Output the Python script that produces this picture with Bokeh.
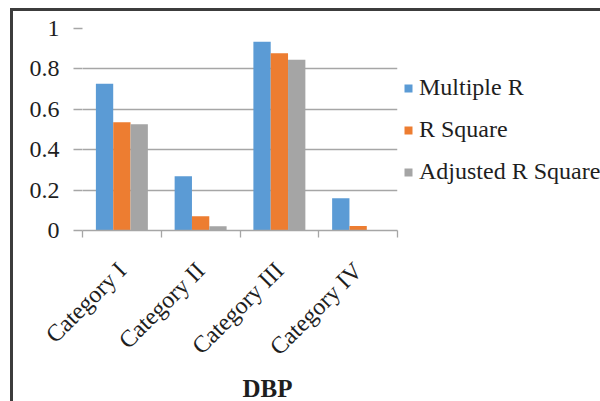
import math
from bokeh.plotting import figure
from bokeh.models import (ColumnDataSource, Range1d, FixedTicker, LinearAxis,
                          Legend, LegendItem, Title)
from bokeh.transform import dodge
from bokeh.embed import file_html
from bokeh.resources import INLINE

categories = ["Category I", "Category II", "Category III", "Category IV"]
multiple_r = [0.726, 0.269, 0.934, 0.160]
r_square = [0.536, 0.071, 0.878, 0.022]
adjusted_r_square = [0.526, 0.021, 0.845, 0.0]
series_names = ["Multiple R", "R Square", "Adjusted R Square"]
y_ticks = [0, 0.2, 0.4, 0.6, 0.8, 1.0]
y_tick_labels = ["0", "0.2", "0.4", "0.6", "0.8", "1"]
x_title = "DBP"

colors = ["#5B9BD5", "#ED7D31", "#A5A5A5"]
FONT = "Liberation Serif"
TXT = "#1e1e1e"
GRID = "#a6a6a6"

n = len(categories)
centers = [i + 0.5 for i in range(n)]   # category slots on a 0..n axis
source = ColumnDataSource(dict(x=centers, mr=multiple_r, rs=r_square, ars=adjusted_r_square))

p = figure(frame_width=315, frame_height=202, x_range=Range1d(0, n),
           y_range=Range1d(0, 1), output_backend="svg", toolbar_location=None,
           x_axis_location=None, min_border_left=69, min_border_right=203,
           min_border_top=17, min_border_bottom=171)
p.styles = {"margin-left": "10px", "margin-top": "8px",
            "border-top": "3px solid #3c3c3c", "border-left": "3px solid #3c3c3c"}
p.outline_line_color = None
p.xgrid.grid_line_color = None
p.ygrid.grid_line_color = GRID
p.ygrid.grid_line_width = 1.3
p.ygrid.ticker = FixedTicker(ticks=y_ticks)

ya = p.yaxis[0]
ya.ticker = FixedTicker(ticks=y_ticks)
ya.major_label_overrides = {t: l for t, l in zip(y_ticks, y_tick_labels)}
ya.axis_line_color = None
ya.major_tick_out = 9
ya.major_tick_in = 0
ya.major_tick_line_color = GRID
ya.major_tick_line_width = 1.3
ya.minor_tick_line_color = None
ya.major_label_standoff = 14
ya.major_label_text_font = FONT
ya.major_label_text_font_size = "24px"
ya.major_label_text_color = TXT

# tick marks at category boundaries (no labels)
edge_axis = LinearAxis(ticker=FixedTicker(ticks=list(range(n + 1))),
                       major_label_text_font_size="0px", major_label_text_color=None,
                       major_label_standoff=0,
                       axis_line_color=GRID, axis_line_width=1.3,
                       major_tick_out=7, major_tick_in=0, major_tick_line_color=GRID,
                       major_tick_line_width=1.3, minor_tick_line_color=None)
p.add_layout(edge_axis, "below")

cat_axis = LinearAxis(ticker=FixedTicker(ticks=centers),
                      major_label_overrides={c: lab for c, lab in zip(centers, categories)},
                      axis_line_color=None, major_tick_line_color=None,
                      minor_tick_line_color=None, major_label_orientation=math.pi / 4,
                      major_label_text_font=FONT, major_label_text_font_size="24px",
                      major_label_text_color=TXT, major_label_standoff=23)
p.add_layout(cat_axis, "below")

p.add_layout(Title(text=x_title, align="left", offset=160, standoff=0,
                   text_font=FONT, text_font_size="25px", text_font_style="bold",
                   text_color=TXT), "below")

w = 0.22
r1 = p.vbar(x=dodge("x", -w), top="mr", width=w, source=source,
            fill_color=colors[0], line_color=None)
r2 = p.vbar(x=dodge("x", 0), top="rs", width=w, source=source,
            fill_color=colors[1], line_color=None)
r3 = p.vbar(x=dodge("x", w), top="ars", width=w, source=source,
            fill_color=colors[2], line_color=None)

legend = Legend(items=[LegendItem(label=series_names[0], renderers=[r1]),
                       LegendItem(label=series_names[1], renderers=[r2]),
                       LegendItem(label=series_names[2], renderers=[r3])],
                location=(6, 45), padding=0, margin=0, border_line_color=None,
                background_fill_alpha=0, glyph_width=10, glyph_height=10,
                label_standoff=6, spacing=15, label_height=25,
                label_text_font=FONT, label_text_font_size="24px", label_text_color=TXT)
p.add_layout(legend, "right")

open("out.html", "w").write(file_html(p, INLINE))
